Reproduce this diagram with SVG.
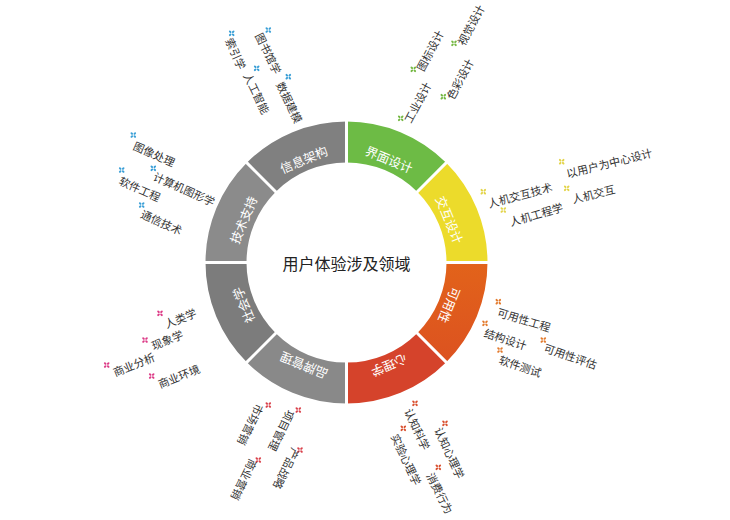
<svg xmlns="http://www.w3.org/2000/svg" xmlns:xlink="http://www.w3.org/1999/xlink" width="730" height="520" viewBox="0 0 730 520">
<style>
.seg-label{font-family:"Noto Sans CJK SC","Noto Sans",sans-serif;font-size:12.5px;fill:#ffffff;text-anchor:middle;dominant-baseline:central}
.lab{font-family:"Noto Sans CJK SC","Noto Sans",sans-serif;font-size:11px;fill:#333333;dominant-baseline:central}
.title{font-family:"Noto Sans CJK SC","Noto Sans",sans-serif;font-size:16px;fill:#222222;text-anchor:middle;dominant-baseline:central}
.gap{stroke:#ffffff;stroke-width:3}
</style>
<defs>
<g id="ic">
<ellipse cx="-1.5" cy="-1.5" rx="1.5" ry="1" transform="rotate(45 -1.5 -1.5)"/>
<ellipse cx="1.5" cy="1.5" rx="1.5" ry="1" transform="rotate(45 1.5 1.5)"/>
<ellipse cx="1.5" cy="-1.5" rx="1.5" ry="1" transform="rotate(-45 1.5 -1.5)"/>
<ellipse cx="-1.5" cy="1.5" rx="1.5" ry="1" transform="rotate(-45 -1.5 1.5)"/>
</g>
<linearGradient id="gOr" x1="0" y1="0" x2="0" y2="1">
<stop offset="0" stop-color="#e2631a"/>
<stop offset="1" stop-color="#dc5220"/>
</linearGradient>
</defs>
<rect width="730" height="520" fill="#ffffff"/>

<g id="ring">
<g id="seg-jiemian"><path d="M346.5,121.5 A141,141 0 0 1 446.2,162.8 L417.21,191.79 A100,100 0 0 0 346.5,162.5 Z" fill="#6dbb45"/><text class="seg-label" transform="translate(389.4,159) rotate(22.5)">界面设计</text></g>
<g id="seg-jiaohu"><path d="M446.2,162.8 A141,141 0 0 1 487.5,262.5 L446.5,262.5 A100,100 0 0 0 417.21,191.79 Z" fill="#ecdb2b"/><text class="seg-label" transform="translate(450,219.6) rotate(67.5)">交互设计</text></g>
<g id="seg-keyong"><path d="M487.5,262.5 A141,141 0 0 1 446.2,362.2 L417.21,333.21 A100,100 0 0 0 446.5,262.5 Z" fill="url(#gOr)"/><text class="seg-label" transform="translate(450,305.4) rotate(112.5)">可用性</text></g>
<g id="seg-xinli"><path d="M446.2,362.2 A141,141 0 0 1 346.5,403.5 L346.5,362.5 A100,100 0 0 0 417.21,333.21 Z" fill="#d5432b"/><text class="seg-label" transform="translate(389.4,366) rotate(157.5)">心理学</text></g>
<g id="seg-pinpai"><path d="M346.5,403.5 A141,141 0 0 1 246.8,362.2 L275.79,333.21 A100,100 0 0 0 346.5,362.5 Z" fill="#898989"/><text class="seg-label" transform="translate(303.6,366) rotate(202.5)">品牌管理</text></g>
<g id="seg-shehui"><path d="M246.8,362.2 A141,141 0 0 1 205.5,262.5 L246.5,262.5 A100,100 0 0 0 275.79,333.21 Z" fill="#7c7c7c"/><text class="seg-label" transform="translate(243,305.4) rotate(247.5)">社会学</text></g>
<g id="seg-jishu"><path d="M205.5,262.5 A141,141 0 0 1 246.8,162.8 L275.79,191.79 A100,100 0 0 0 246.5,262.5 Z" fill="#8b8b8b"/><text class="seg-label" transform="translate(243,219.6) rotate(292.5)">技术支持</text></g>
<g id="seg-xinxi"><path d="M246.8,162.8 A141,141 0 0 1 346.5,121.5 L346.5,162.5 A100,100 0 0 0 275.79,191.79 Z" fill="#808080"/><text class="seg-label" transform="translate(303.6,159) rotate(337.5)">信息架构</text></g>
</g>

<g id="connectors">
<line class="gap" x1="346.5" y1="165" x2="346.5" y2="119"/>
<line class="gap" x1="415.8" y1="193.2" x2="447.6" y2="161.4"/>
<line class="gap" x1="444.5" y1="262.5" x2="489.5" y2="262.5"/>
<line class="gap" x1="415.8" y1="331.8" x2="447.6" y2="363.6"/>
<line class="gap" x1="346.5" y1="360.5" x2="346.5" y2="405.5"/>
<line class="gap" x1="277.2" y1="331.8" x2="245.4" y2="363.6"/>
<line class="gap" x1="248.5" y1="262.5" x2="203.5" y2="262.5"/>
<line class="gap" x1="277.2" y1="193.2" x2="245.4" y2="161.4"/>
</g>

<g id="center"><text class="title" x="346.5" y="263">用户体验涉及领域</text></g>

<g id="labels-jiemian" fill="#76b844">
<use href="#ic" x="400.7" y="118.3"/><text class="lab" transform="translate(406.7,121.6) rotate(-62)">工业设计</text>
<use href="#ic" x="413.3" y="69.3"/><text class="lab" transform="translate(419.1,69.9) rotate(-62)">图标设计</text>
<use href="#ic" x="454" y="43.3"/><text class="lab" transform="translate(460.1,44.2) rotate(-62)">视觉设计</text>
<use href="#ic" x="443.3" y="96.7"/><text class="lab" transform="translate(449.1,98.2) rotate(-62)">色彩设计</text>
</g>

<g id="labels-xinxi" fill="#3a9fd6">
<use href="#ic" x="231.7" y="33.3"/><text class="lab" transform="translate(229.5,38.3) rotate(66)">索引学</text>
<use href="#ic" x="268.3" y="30"/><text class="lab" transform="translate(259.3,33.4) rotate(64)">图书馆学</text>
<use href="#ic" x="256.7" y="68.3"/><text class="lab" transform="translate(247.6,73.4) rotate(64)">人工智能</text>
<use href="#ic" x="288.3" y="76.7"/><text class="lab" transform="translate(280.3,82.4) rotate(64)">数据建模</text>
</g>

<g id="labels-jishu" fill="#3a9fd6">
<use href="#ic" x="133.3" y="135"/><text class="lab" transform="translate(134.3,144.5) rotate(24)">图像处理</text>
<use href="#ic" x="153.3" y="168.3"/><text class="lab" transform="translate(154.3,175.1) rotate(24)">计算机图形学</text>
<use href="#ic" x="121.7" y="170"/><text class="lab" transform="translate(120,179.5) rotate(24)">软件工程</text>
<use href="#ic" x="141.7" y="205"/><text class="lab" transform="translate(141.7,212.8) rotate(24)">通信技术</text>
</g>

<g id="labels-shehui" fill="#dc3a86">
<use href="#ic" x="160" y="313.3"/><text class="lab" transform="translate(165,323.9) rotate(-22)">人类学</text>
<use href="#ic" x="145" y="340"/><text class="lab" transform="translate(151.7,345.5) rotate(-22)">现象学</text>
<use href="#ic" x="106.7" y="365"/><text class="lab" transform="translate(113.3,372.2) rotate(-22)">商业分析</text>
<use href="#ic" x="151.7" y="376"/><text class="lab" transform="translate(158.3,383.9) rotate(-22)">商业环境</text>
</g>

<g id="labels-pinpai" fill="#d9404a">
<use href="#ic" x="268.3" y="405"/><text class="lab" transform="translate(260.8,405.1) rotate(116)">市场营销</text>
<use href="#ic" x="298.3" y="410"/><text class="lab" transform="translate(291.8,411.1) rotate(116)">项目管理</text>
<use href="#ic" x="300" y="450"/><text class="lab" transform="translate(296.5,449.1) rotate(116)">产品战略</text>
<use href="#ic" x="258.3" y="460"/><text class="lab" transform="translate(254.2,460.1) rotate(116)">商业营销</text>
</g>

<g id="labels-xinli" fill="#d9502f">
<use href="#ic" x="415" y="403.3"/><text class="lab" transform="translate(408.5,409) rotate(65)">认知科学</text>
<use href="#ic" x="445" y="423.3"/><text class="lab" transform="translate(438.5,427.7) rotate(65)">认知心理学</text>
<use href="#ic" x="403.3" y="428.3"/><text class="lab" transform="translate(395.1,434.3) rotate(65)">实验心理学</text>
<use href="#ic" x="438.3" y="467.3"/><text class="lab" transform="translate(430.5,473.3) rotate(63)">消费行为</text>
</g>

<g id="labels-jiaohu" fill="#e3d44a">
<use href="#ic" x="561.7" y="161.7"/><text class="lab" transform="translate(566.4,173.1) rotate(-14)">以用户为中心设计</text>
<use href="#ic" x="483.3" y="191.7"/><text class="lab" transform="translate(488,203.1) rotate(-15)">人机交互技术</text>
<use href="#ic" x="566.7" y="188.3"/><text class="lab" transform="translate(572,198.7) rotate(-14)">人机交互</text>
<use href="#ic" x="503.3" y="210"/><text class="lab" transform="translate(509.7,221.4) rotate(-16)">人机工程学</text>
</g>

<g id="labels-keyong" fill="#e37a2c">
<use href="#ic" x="498.3" y="301.7"/><text class="lab" transform="translate(498,311.1) rotate(17)">可用性工程</text>
<use href="#ic" x="485" y="323.3"/><text class="lab" transform="translate(484.7,331.7) rotate(18)">结构设计</text>
<use href="#ic" x="543.3" y="340"/><text class="lab" transform="translate(544.7,346.7) rotate(19)">可用性评估</text>
<use href="#ic" x="500" y="350"/><text class="lab" transform="translate(499.7,358.4) rotate(19)">软件测试</text>
</g>
</svg>
